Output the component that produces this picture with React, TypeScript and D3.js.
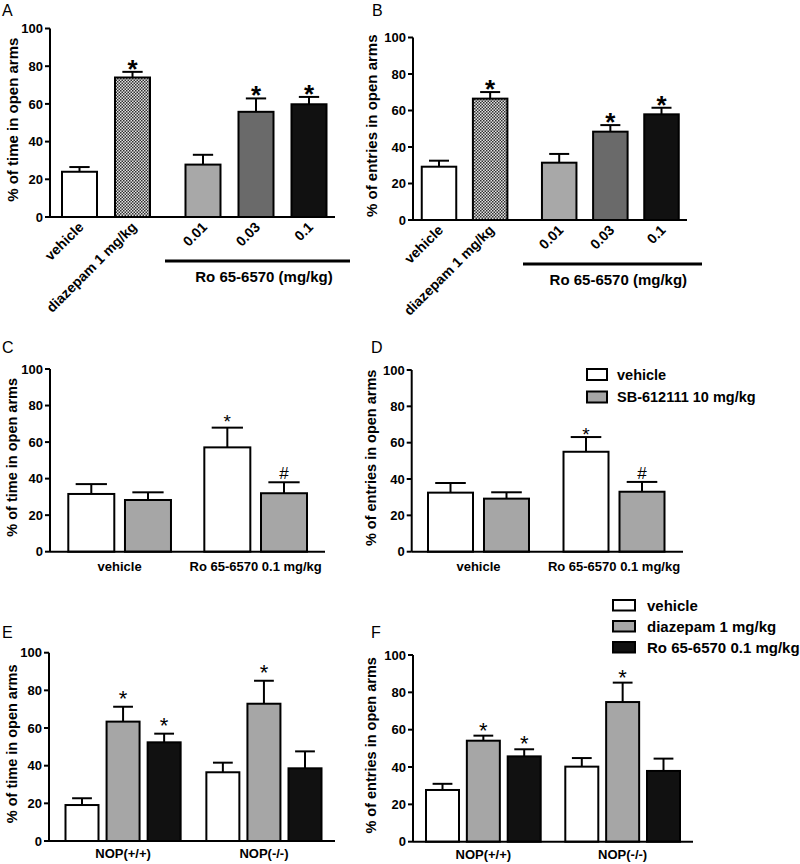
import React from "react";
import * as d3 from "d3";

// ---------- data ----------
const yTicks = [0, 20, 40, 60, 80, 100];

// Panel A: % of time in open arms
const abCategories = ["vehicle", "diazepam 1 mg/kg", "0.01", "0.03", "0.1"];
const abGroupIndex = [0, 0, 1, 1, 1];
const aMeans = [24, 74, 27.8, 55.8, 59.8];
const aErrors = [2.5, 3, 5.2, 7.1, 3.9];
const aStars = [false, true, false, true, true];

// Panel B: % of entries in open arms
const bMeans = [29.2, 66.5, 31.4, 48.4, 57.9];
const bErrors = [3.3, 3.6, 4.8, 3.6, 3.6];
const bStars = [false, true, false, true, true];
const abGroupLabel = "Ro 65-6570 (mg/kg)";

// Panels C, D
const cdGroups = ["vehicle", "Ro 65-6570 0.1 mg/kg"];
const cdSeries = ["vehicle", "SB-612111 10 mg/kg"];
const cVehicle = [31.6, 57.1];
const cVehicleErr = [5.4, 10.8];
const cSB = [28.3, 32];
const cSBErr = [4.2, 6];
const dVehicle = [32.5, 55];
const dVehicleErr = [5.3, 8.1];
const dSB = [29.2, 33];
const dSBErr = [3.5, 5.4];
const cdMarksVehicle = ["", "*"];
const cdMarksSB = ["", "#"];

// Panels E, F
const efGroups = ["NOP(+/+)", "NOP(-/-)"];
const efSeries = ["vehicle", "diazepam 1 mg/kg", "Ro 65-6570 0.1 mg/kg"];
const eVehicle = [19.1, 36.5];
const eVehicleErr = [3.6, 5.1];
const eDiazepam = [63.4, 72.9];
const eDiazepamErr = [7.9, 12.2];
const eRo = [52.4, 38.6];
const eRoErr = [4.6, 9];
const fVehicle = [27.7, 40.2];
const fVehicleErr = [3.3, 4.6];
const fDiazepam = [54.1, 74.8];
const fDiazepamErr = [2.7, 10.4];
const fRo = [45.7, 37.9];
const fRoErr = [3.8, 6.6];
const efMarksVehicle = ["", ""];
const efMarksDiazepam = ["*", "*"];
const efMarksRo = ["*", ""];

// ---------- styles ----------
const FONT = "'Liberation Sans', Arial, Helvetica, sans-serif";
const abFills = ["#ffffff", "url(#checker)", "#a8a8a8", "#6a6a6a", "#111111"];
const cdFills = ["#ffffff", "#a6a6a6"];
const efFills = ["#ffffff", "#a6a6a6", "#111111"];

type Bar = { cx: number; value: number; err: number; fill: string; mark: string };

type AxisProps = {
  left: number;
  right: number;
  y0: number;
  y100: number;
  title: string;
  titleX: number;
  titleSize: number;
};

function Axes({ left, right, y0, y100, title, titleX, titleSize }: AxisProps) {
  const y = d3.scaleLinear().domain([0, 100]).range([y0, y100]);
  return (
    <g>
      <line x1={left} x2={left} y1={y(0)} y2={y(100)} stroke="#000" strokeWidth={2} />
      <line x1={left} x2={right} y1={y(0)} y2={y(0)} stroke="#000" strokeWidth={2} />
      {yTicks.map((t) => (
        <g key={t}>
          <line x1={left - 5} x2={left} y1={y(t)} y2={y(t)} stroke="#000" strokeWidth={2} />
          <text
            x={left - 7}
            y={y(t)}
            dy="0.36em"
            textAnchor="end"
            fontFamily={FONT}
            fontWeight="bold"
            fontSize={13}
          >
            {t}
          </text>
        </g>
      ))}
      <text
        transform={`translate(${titleX},${(y0 + y100) / 2 - 3}) rotate(-90)`}
        textAnchor="middle"
        dy="0.36em"
        fontFamily={FONT}
        fontWeight="bold"
        fontSize={titleSize}
      >
        {title}
      </text>
    </g>
  );
}

type BarsProps = {
  bars: Bar[];
  y0: number;
  y100: number;
  width: number;
  capFrac: number;
  markSize: number;
  markWeight: string;
  markShift: number;
};

function Bars({ bars, y0, y100, width, capFrac, markSize, markWeight, markShift }: BarsProps) {
  const y = d3.scaleLinear().domain([0, 100]).range([y0, y100]);
  return (
    <g>
      {bars.map((b, i) => {
        const top = y(b.value);
        const errTop = y(b.value + b.err);
        const cap = (width * capFrac) / 2;
        const isHash = b.mark === "#";
        return (
          <g key={i}>
            <line x1={b.cx} x2={b.cx} y1={top} y2={errTop} stroke="#000" strokeWidth={2} />
            <line x1={b.cx - cap} x2={b.cx + cap} y1={errTop} y2={errTop} stroke="#000" strokeWidth={2} />
            <rect
              x={b.cx - width / 2}
              y={top}
              width={width}
              height={y(0) - top}
              fill={b.fill}
              stroke="#000"
              strokeWidth={2}
            />
            {b.mark && (
              <text
                x={b.cx}
                y={isHash ? errTop - 3 : errTop + markShift}
                textAnchor="middle"
                fontFamily={FONT}
                fontWeight={isHash ? "normal" : markWeight}
                fontSize={isHash ? 17 : markSize}
              >
                {b.mark}
              </text>
            )}
          </g>
        );
      })}
    </g>
  );
}

function PanelAB(props: {
  left: number;
  right: number;
  y0: number;
  y100: number;
  first: number;
  last: number;
  gap: number;
  width: number;
  means: number[];
  errors: number[];
  stars: boolean[];
  title: string;
  titleX: number;
  lineL: number;
  lineR: number;
}) {
  const slots = abCategories.map((_, i) => i + abGroupIndex[i] * props.gap);
  const x = d3
    .scaleLinear()
    .domain([0, slots[slots.length - 1]])
    .range([props.first, props.last]);
  const bars: Bar[] = abCategories.map((_, i) => ({
    cx: x(slots[i]),
    value: props.means[i],
    err: props.errors[i],
    fill: abFills[i],
    mark: props.stars[i] ? "*" : "",
  }));
  return (
    <g>
      <Bars
        bars={bars}
        y0={props.y0}
        y100={props.y100}
        width={props.width}
        capFrac={0.58}
        markSize={26}
        markWeight="bold"
        markShift={6}
      />
      <Axes
        left={props.left}
        right={props.right}
        y0={props.y0}
        y100={props.y100}
        title={props.title}
        titleX={props.titleX}
        titleSize={15}
      />
      {abCategories.map((c, i) => (
        <text
          key={c}
          transform={`translate(${x(slots[i]) - 2},${props.y0 + 4}) rotate(-45)`}
          textAnchor="end"
          dy="0.7em"
          fontFamily={FONT}
          fontWeight="bold"
          fontSize={14}
        >
          {c}
        </text>
      ))}
      <line
        x1={props.lineL}
        x2={props.lineR}
        y1={props.y0 + 44}
        y2={props.y0 + 44}
        stroke="#000"
        strokeWidth={3}
      />
      <text
        x={(x(slots[2]) + x(slots[4])) / 2 + 8}
        y={props.y0 + 64.5}
        textAnchor="middle"
        fontFamily={FONT}
        fontWeight="bold"
        fontSize={15}
      >
        {abGroupLabel}
      </text>
    </g>
  );
}

function GroupedPanel(props: {
  left: number;
  right: number;
  y0: number;
  y100: number;
  first: number;
  last: number;
  groupStep: number;
  width: number;
  groups: string[];
  series: { values: number[]; errors: number[]; marks: string[]; fill: string }[];
  title: string;
  titleX: number;
  capFrac: number;
  markSize: number;
  markWeight: string;
  markShift: number;
  labelOffset: number;
}) {
  const n = props.series.length;
  const lastSlot = (props.groups.length - 1) * props.groupStep + (n - 1);
  const x = d3.scaleLinear().domain([0, lastSlot]).range([props.first, props.last]);
  const bars: Bar[] = [];
  props.groups.forEach((_, g) => {
    props.series.forEach((s, k) => {
      bars.push({
        cx: x(g * props.groupStep + k),
        value: s.values[g],
        err: s.errors[g],
        fill: s.fill,
        mark: s.marks[g],
      });
    });
  });
  return (
    <g>
      <Bars
        bars={bars}
        y0={props.y0}
        y100={props.y100}
        width={props.width}
        capFrac={props.capFrac}
        markSize={props.markSize}
        markWeight={props.markWeight}
        markShift={props.markShift}
      />
      <Axes
        left={props.left}
        right={props.right}
        y0={props.y0}
        y100={props.y100}
        title={props.title}
        titleX={props.titleX}
        titleSize={14.5}
      />
      {props.groups.map((gname, g) => (
        <text
          key={gname}
          x={(x(g * props.groupStep) + x(g * props.groupStep + n - 1)) / 2}
          y={props.y0 + props.labelOffset}
          textAnchor="middle"
          fontFamily={FONT}
          fontWeight="bold"
          fontSize={13}
        >
          {gname}
        </text>
      ))}
    </g>
  );
}

function Legend(props: {
  x: number;
  y: number;
  items: string[];
  fills: string[];
  boxW: number;
  boxH: number;
  rowH: number;
  fontSize: number;
  textGap: number;
}) {
  return (
    <g>
      {props.items.map((it, i) => (
        <g key={it}>
          <rect
            x={props.x}
            y={props.y + i * props.rowH}
            width={props.boxW}
            height={props.boxH}
            fill={props.fills[i]}
            stroke="#000"
            strokeWidth={2}
          />
          <text
            x={props.x + props.boxW + props.textGap}
            y={props.y + i * props.rowH + props.boxH / 2}
            dy="0.36em"
            fontFamily={FONT}
            fontWeight="bold"
            fontSize={props.fontSize}
          >
            {it}
          </text>
        </g>
      ))}
    </g>
  );
}

function PanelLetter({ x, y, t }: { x: number; y: number; t: string }) {
  return (
    <text x={x} y={y} fontFamily={FONT} fontSize={16}>
      {t}
    </text>
  );
}

export default function App() {
  return (
    <svg
      width={800}
      height={864}
      style={{ position: "absolute", left: 0, top: 0, background: "#fff" }}
    >
      <defs>
        <pattern id="checker" width={3} height={3} patternUnits="userSpaceOnUse">
          <rect width={3} height={3} fill="#e2e2e2" />
          <rect width={1.5} height={1.5} fill="#303030" />
          <rect x={1.5} y={1.5} width={1.5} height={1.5} fill="#303030" />
        </pattern>
      </defs>
      <rect width={800} height={864} fill="#fff" />

      <PanelLetter x={2} y={16} t="A" />
      <PanelLetter x={372} y={16} t="B" />
      <PanelLetter x={2} y={353} t="C" />
      <PanelLetter x={371} y={353} t="D" />
      <PanelLetter x={2} y={638} t="E" />
      <PanelLetter x={371} y={638} t="F" />

      <PanelAB
        left={50}
        right={335}
        y0={217}
        y100={28.5}
        first={79.5}
        last={309}
        gap={0.33}
        width={35}
        means={aMeans}
        errors={aErrors}
        stars={aStars}
        title="% of time in open arms"
        titleX={12.5}
        lineL={165}
        lineR={350}
      />
      <PanelAB
        left={413}
        right={687}
        y0={220}
        y100={37.5}
        first={439}
        last={661.5}
        gap={0.35}
        width={34.5}
        means={bMeans}
        errors={bErrors}
        stars={bStars}
        title="% of entries in open arms"
        titleX={371.5}
        lineL={523}
        lineR={702}
      />

      <GroupedPanel
        left={50}
        right={325}
        y0={551.7}
        y100={369}
        first={91.3}
        last={284}
        groupStep={2.4}
        width={46}
        groups={cdGroups}
        series={[
          { values: cVehicle, errors: cVehicleErr, marks: cdMarksVehicle, fill: cdFills[0] },
          { values: cSB, errors: cSBErr, marks: cdMarksSB, fill: cdFills[1] },
        ]}
        title="% of time in open arms"
        titleX={11.5}
        capFrac={0.68}
        markSize={19}
        markWeight="normal"
        markShift={0}
        labelOffset={19.5}
      />
      <GroupedPanel
        left={411.7}
        right={683}
        y0={551.7}
        y100={370}
        first={450.5}
        last={642}
        groupStep={2.42}
        width={45}
        groups={cdGroups}
        series={[
          { values: dVehicle, errors: dVehicleErr, marks: cdMarksVehicle, fill: cdFills[0] },
          { values: dSB, errors: dSBErr, marks: cdMarksSB, fill: cdFills[1] },
        ]}
        title="% of entries in open arms"
        titleX={370.5}
        capFrac={0.68}
        markSize={19}
        markWeight="normal"
        markShift={4}
        labelOffset={19.5}
      />
      <Legend
        x={587}
        y={369}
        items={cdSeries}
        fills={cdFills}
        boxW={20}
        boxH={11}
        rowH={22.5}
        fontSize={14.5}
        textGap={10}
      />

      <GroupedPanel
        left={49}
        right={335}
        y0={841}
        y100={652.7}
        first={82}
        last={305}
        groupStep={3.43}
        width={33}
        groups={efGroups}
        series={[
          { values: eVehicle, errors: eVehicleErr, marks: efMarksVehicle, fill: efFills[0] },
          { values: eDiazepam, errors: eDiazepamErr, marks: efMarksDiazepam, fill: efFills[1] },
          { values: eRo, errors: eRoErr, marks: efMarksRo, fill: efFills[2] },
        ]}
        title="% of time in open arms"
        titleX={11.5}
        capFrac={0.6}
        markSize={22}
        markWeight="normal"
        markShift={-1}
        labelOffset={17}
      />
      <GroupedPanel
        left={413}
        right={693}
        y0={841.7}
        y100={655}
        first={442.5}
        last={663.5}
        groupStep={3.41}
        width={33}
        groups={efGroups}
        series={[
          { values: fVehicle, errors: fVehicleErr, marks: efMarksVehicle, fill: efFills[0] },
          { values: fDiazepam, errors: fDiazepamErr, marks: efMarksDiazepam, fill: efFills[1] },
          { values: fRo, errors: fRoErr, marks: efMarksRo, fill: efFills[2] },
        ]}
        title="% of entries in open arms"
        titleX={370.5}
        capFrac={0.6}
        markSize={22}
        markWeight="normal"
        markShift={2}
        labelOffset={17}
      />
      <Legend
        x={613}
        y={600}
        items={efSeries}
        fills={efFills}
        boxW={22}
        boxH={10.5}
        rowH={21}
        fontSize={15}
        textGap={12}
      />
    </svg>
  );
}
